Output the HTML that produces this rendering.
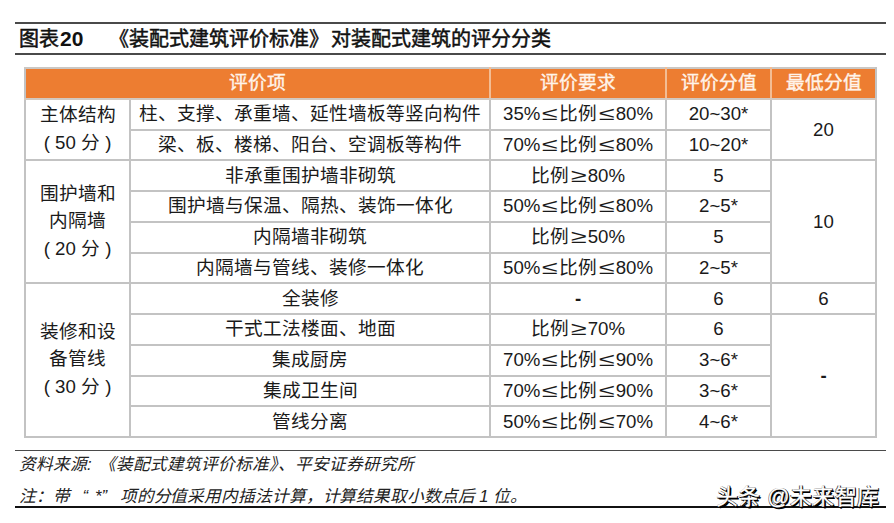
<!DOCTYPE html>
<html lang="zh-CN">
<head>
<meta charset="utf-8">
<title>图表20</title>
<style>
html,body{margin:0;padding:0;background:#fff;}
body{width:894px;height:523px;position:relative;overflow:hidden;font-family:"Liberation Sans",sans-serif;color:#1a1a1a;}
.rule{position:absolute;left:15px;width:871px;height:2px;background:#4a4a4a;}
.title{position:absolute;left:18.5px;top:27px;font-size:20px;font-weight:normal;-webkit-text-stroke:0.5px #111;line-height:24px;white-space:nowrap;color:#111;}
table{position:absolute;left:24px;top:67px;border-collapse:collapse;table-layout:fixed;width:853px;}
td,th{border:2px solid #c3c3c3;padding:0;text-align:center;vertical-align:middle;font-size:18.67px;font-weight:normal;height:28.75px;line-height:28px;white-space:nowrap;overflow:hidden;}
th{background:#ed7d31;color:#fff4ea;font-weight:normal;-webkit-text-stroke:0.4px #fff4ea;font-size:18.67px;}
th{border-left-color:#f3bd94;border-right-color:#f3bd94;border-top-color:#cbc7c3;border-bottom-color:#d2c8bf;}
th:first-child{border-left-color:#c3c3c3;}
th:last-child{border-right-color:#c3c3c3;}
td.g{line-height:27.5px;padding-bottom:2px;}
.o{display:inline-block;width:18.67px;text-align:center;transform:scaleX(1.55);}
.src{position:absolute;left:19px;font-size:16.67px;font-style:italic;white-space:nowrap;color:#222;}
.title b{font-weight:bold;-webkit-text-stroke:0;font-size:21px;line-height:20px;margin-left:1.5px;}
.sp{display:inline-block;width:7.5px;}
.ql{display:inline-block;width:1.1em;text-align:right;}
.qr{display:inline-block;width:1.1em;text-align:left;}
.wm{position:absolute;left:716px;top:479.5px;font-size:22px;letter-spacing:0.35px;line-height:34px;color:#fff;white-space:nowrap;-webkit-text-stroke:0.3px #fff;text-shadow:1px 1px 0 #000,0 1px 0 #000,1px 0 0 #000,1.5px 1.5px 0 #000,-0.5px -0.5px 0.5px #333;}
</style>
</head>
<body>
<div class="rule" style="top:22px"></div>
<div class="title">图表<b>20</b><span style="display:inline-block;width:26px"></span>《装配式建筑评价标准》<span style="display:inline-block;width:2px"></span>对装配式建筑的评分分类</div>
<div class="rule" style="top:53px"></div>
<table>
<colgroup><col style="width:105px"><col style="width:360px"><col style="width:176px"><col style="width:105px"><col style="width:105px"></colgroup>
<tr><th colspan="2">评价项</th><th>评价要求</th><th>评价分值</th><th>最低分值</th></tr>
<tr><td rowspan="2" class="g">主体结构<br>( 50 分 )</td><td>柱、支撑、承重墙、延性墙板等竖向构件</td><td>35%<span class="o">≤</span>比例<span class="o">≤</span>80%</td><td>20~30*</td><td rowspan="2">20</td></tr>
<tr><td>梁、板、楼梯、阳台、空调板等构件</td><td>70%<span class="o">≤</span>比例<span class="o">≤</span>80%</td><td>10~20*</td></tr>
<tr><td rowspan="4" class="g">围护墙和<br>内隔墙<br>( 20 分 )</td><td>非承重围护墙非砌筑</td><td>比例<span class="o">≥</span>80%</td><td>5</td><td rowspan="4">10</td></tr>
<tr><td>围护墙与保温、隔热、装饰一体化</td><td>50%<span class="o">≤</span>比例<span class="o">≤</span>80%</td><td>2~5*</td></tr>
<tr><td>内隔墙非砌筑</td><td>比例<span class="o">≥</span>50%</td><td>5</td></tr>
<tr><td>内隔墙与管线、装修一体化</td><td>50%<span class="o">≤</span>比例<span class="o">≤</span>80%</td><td>2~5*</td></tr>
<tr><td rowspan="5" class="g">装修和设<br>备管线<br>( 30 分 )</td><td>全装修</td><td><b>-</b></td><td>6</td><td>6</td></tr>
<tr><td>干式工法楼面、地面</td><td>比例<span class="o">≥</span>70%</td><td>6</td><td rowspan="4"><b>-</b></td></tr>
<tr><td>集成厨房</td><td>70%<span class="o">≤</span>比例<span class="o">≤</span>90%</td><td>3~6*</td></tr>
<tr><td>集成卫生间</td><td>70%<span class="o">≤</span>比例<span class="o">≤</span>90%</td><td>3~6*</td></tr>
<tr><td>管线分离</td><td>50%<span class="o">≤</span>比例<span class="o">≤</span>70%</td><td>4~6*</td></tr>
</table>
<div class="rule" style="top:450px;height:1px"></div>
<div class="src" style="top:451px">资料来源:<span class="sp"></span>《装配式建筑评价标准》、平安证券研究所</div>
<div class="src" style="top:482.5px;letter-spacing:-0.1px">注：带<span class="ql">“</span><span class="sp" style="width:7px"></span>*<span class="qr">”</span>项的分值采用内插法计算，计算结果取小数点后 1 位。</div>
<div class="rule" style="top:506px;background:#111"></div>
<div class="wm">头条 @未来智库</div>
</body>
</html>
